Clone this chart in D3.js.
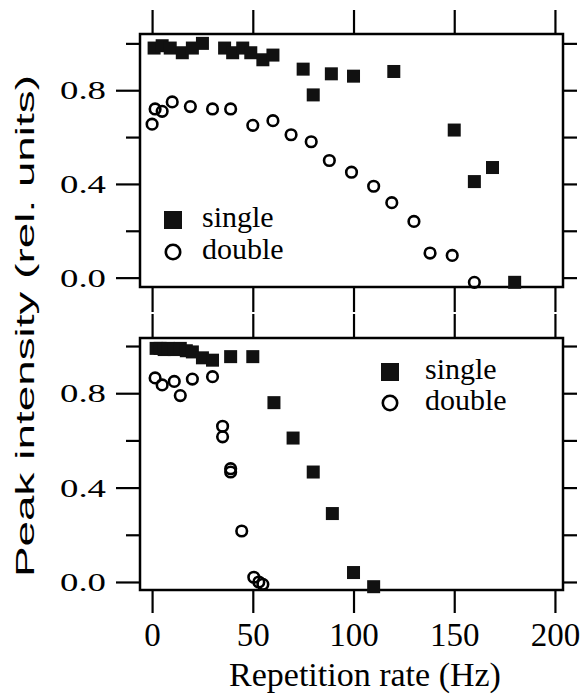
<!DOCTYPE html>
<html>
<head>
<meta charset="utf-8">
<script src="https://cdn.jsdelivr.net/npm/d3@7"></script>
<style>
  html, body { margin: 0; padding: 0; background: #fff; }
  svg { display: block; }
</style>
</head>
<body>
<script>
// ---- data ----
const topSingleX = [1, 5, 9, 15, 20, 25, 36, 40, 45, 49, 55, 60, 75, 80, 89, 100, 120, 150, 160, 169, 180];
const topSingleY = [0.98, 0.99, 0.98, 0.96, 0.98, 1.0, 0.98, 0.96, 0.98, 0.96, 0.93, 0.95, 0.89, 0.78, 0.87, 0.86, 0.88, 0.63, 0.41, 0.47, -0.02];
const topDoubleX = [0, 1.5, 5, 10, 19, 30, 39, 50, 60, 69, 79, 88, 99, 110, 119, 130, 138, 149, 160];
const topDoubleY = [0.655, 0.72, 0.71, 0.75, 0.73, 0.72, 0.72, 0.65, 0.67, 0.61, 0.58, 0.50, 0.45, 0.39, 0.32, 0.24, 0.105, 0.095, -0.02];

const botSingleX = [2, 4, 6, 8, 11, 14, 17, 20, 25, 30, 39, 50, 60.5, 70, 80, 89.5, 100, 110];
const botSingleY = [0.99, 0.99, 0.985, 0.99, 0.985, 0.99, 0.98, 0.975, 0.95, 0.94, 0.955, 0.955, 0.76, 0.61, 0.466, 0.29, 0.04, -0.02];
const botDoubleX = [1.5, 5, 11, 14, 20, 30, 35, 35, 39, 39, 44.5, 50.5, 53, 55];
const botDoubleY = [0.865, 0.835, 0.85, 0.79, 0.86, 0.87, 0.66, 0.615, 0.48, 0.466, 0.216, 0.02, 0.0, -0.01];

const xTicks = [0, 50, 100, 150, 200];
const yMajorTicks = [0.0, 0.4, 0.8];
const yMinorTicks = [0.2, 0.6, 1.0];
const yAllTicks = [0.0, 0.2, 0.4, 0.6, 0.8, 1.0];
const legendLabels = ["single", "double"];
const xTitle = "Repetition rate (Hz)";
const yTitle = "Peak intensity (rel. units)";

// ---- layout ----
const W = 585, H = 695;
const left = 140, right = 563;
const panels = [
  { top: 34, bottom: 287, dom: [-0.04, 1.04], sx: topSingleX, sy: topSingleY, dx: topDoubleX, dy: topDoubleY,
    legend: { x: 173, y: 220, dyRow: 32, tx: 202 }, xLabels: false },
  { top: 338, bottom: 590, dom: [-0.034, 1.034], sx: botSingleX, sy: botSingleY, dx: botDoubleX, dy: botDoubleY,
    legend: { x: 390, y: 372, dyRow: 31, tx: 425 }, xLabels: true }
];

const svg = d3.select("body").append("svg").attr("width", W).attr("height", H);
const x = d3.scaleLinear().domain([-6, 204]).range([left, right]);
const serif = "'Liberation Serif', 'Times New Roman', serif";

panels.forEach(p => {
  const y = d3.scaleLinear().domain(p.dom).range([p.bottom, p.top]);
  const g = svg.append("g");

  // frame
  g.append("rect").attr("x", left).attr("y", p.top)
    .attr("width", right - left).attr("height", p.bottom - p.top)
    .attr("fill", "none").attr("stroke", "#000").attr("stroke-width", 2.5);

  const styleAxis = sel => {
    sel.select(".domain").remove();
    sel.selectAll(".tick line").attr("stroke", "#000").attr("stroke-width", 2.2);
  };

  // top x ticks (outward)
  g.append("g").attr("transform", `translate(0,${p.top})`)
    .call(d3.axisTop(x).tickValues(xTicks).tickSize(24).tickFormat(""))
    .call(styleAxis);
  // bottom x ticks
  const xb = g.append("g").attr("transform", `translate(0,${p.bottom})`)
    .call(d3.axisBottom(x).tickValues(xTicks).tickSize(p.xLabels ? 23 : 25).tickPadding(10)
      .tickFormat(p.xLabels ? d3.format("d") : ""))
    .call(styleAxis);
  xb.selectAll("text").attr("font-family", serif).attr("font-size", 33).attr("fill", "#000");

  // left y ticks: major with labels
  const yl = g.append("g").attr("transform", `translate(${left},0)`)
    .call(d3.axisLeft(y).tickValues(yMajorTicks).tickSize(24).tickPadding(10).tickFormat(d3.format(".1f")))
    .call(styleAxis);
  yl.selectAll("text").attr("font-family", serif).attr("font-size", 25).attr("fill", "#000")
    .attr("textLength", 46).attr("lengthAdjust", "spacingAndGlyphs").attr("dy", "0.34em");
  // left minor
  g.append("g").attr("transform", `translate(${left},0)`)
    .call(d3.axisLeft(y).tickValues(yMinorTicks).tickSize(14).tickFormat(""))
    .call(styleAxis);
  // right ticks
  g.append("g").attr("transform", `translate(${right},0)`)
    .call(d3.axisRight(y).tickValues(yAllTicks).tickSize(14).tickFormat(""))
    .call(styleAxis);

  // single (filled squares)
  const sq = 13;
  g.append("g").selectAll("rect").data(d3.range(p.sx.length)).join("rect")
    .attr("x", i => x(p.sx[i]) - sq / 2).attr("y", i => y(p.sy[i]) - sq / 2)
    .attr("width", sq).attr("height", sq).attr("fill", "#111");

  // double (open circles)
  g.append("g").selectAll("circle").data(d3.range(p.dx.length)).join("circle")
    .attr("cx", i => x(p.dx[i])).attr("cy", i => y(p.dy[i])).attr("r", 5.3)
    .attr("fill", "none").attr("stroke", "#000").attr("stroke-width", 2.6);

  // legend
  const L = p.legend;
  g.append("rect").attr("x", L.x - 9).attr("y", L.y - 9).attr("width", 18).attr("height", 18).attr("fill", "#111");
  g.append("circle").attr("cx", L.x).attr("cy", L.y + L.dyRow).attr("r", 7.2)
    .attr("fill", "none").attr("stroke", "#000").attr("stroke-width", 2.6);
  legendLabels.forEach((t, i) => {
    g.append("text").attr("x", L.tx).attr("y", L.y + 7 + i * L.dyRow)
      .attr("font-family", serif).attr("font-size", 30).attr("fill", "#000").text(t);
  });
});

// axis titles
svg.append("text").attr("x", 365).attr("y", 686).attr("text-anchor", "middle")
  .attr("font-family", serif).attr("font-size", 34).attr("fill", "#000").text(xTitle);

svg.append("text").attr("transform", "translate(34,326) rotate(-90)").attr("text-anchor", "middle")
  .attr("font-family", "'Liberation Sans', Arial, sans-serif").attr("font-size", 26).attr("fill", "#000")
  .attr("textLength", 502).attr("lengthAdjust", "spacingAndGlyphs").text(yTitle);
</script>
</body>
</html>
